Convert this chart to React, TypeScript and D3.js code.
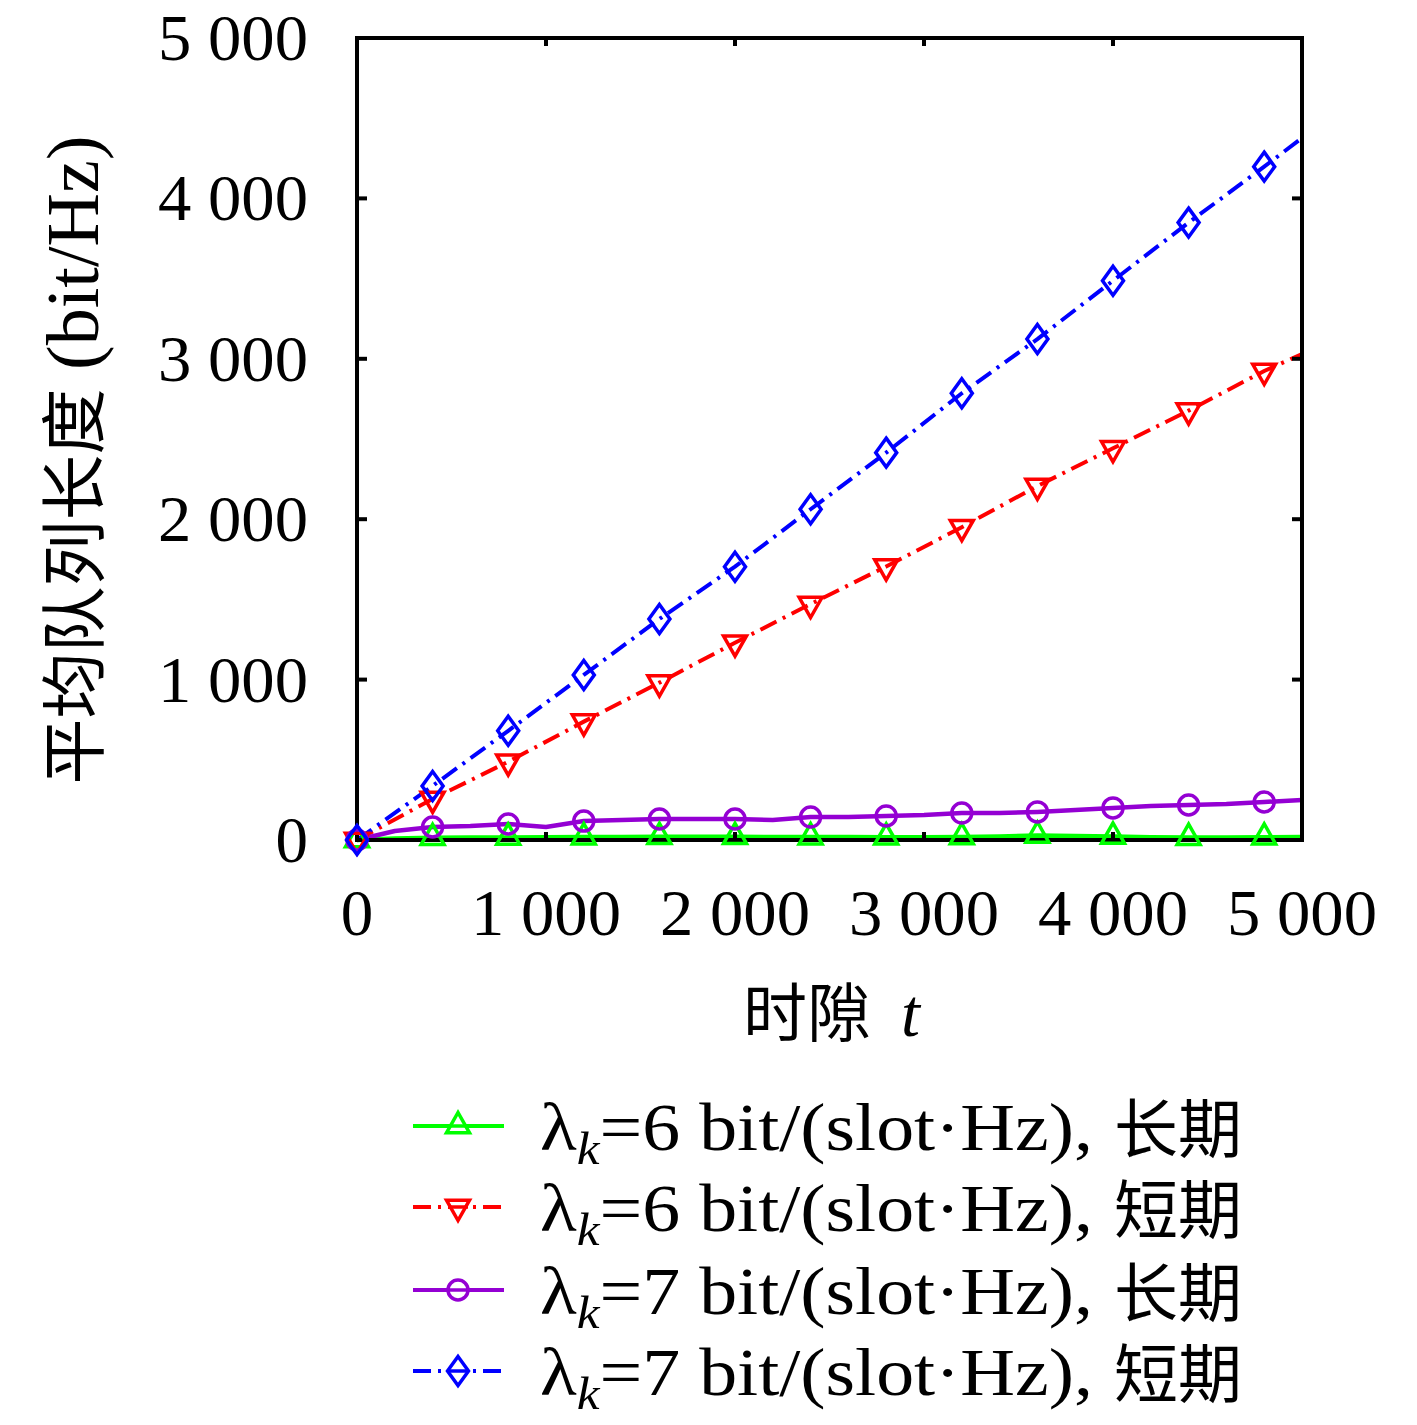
import React from "react";
import * as d3 from "d3";

// ---- data ----
const xTicks = [0, 1000, 2000, 3000, 4000, 5000];
const yTicks = [0, 1000, 2000, 3000, 4000, 5000];
const tickLabel = (v: number) => (v === 0 ? "0" : `${Math.floor(v / 1000)} ${String(v % 1000).padStart(3, "0")}`);

const markerSlots = [0, 400, 800, 1200, 1600, 2000, 2400, 2800, 3200, 3600, 4000, 4400, 4800];
const denseSlots = [0, 200, 400, 600, 800, 1000, 1200, 1400, 1600, 1800, 2000, 2200, 2400, 2600, 2800, 3000, 3200, 3400, 3600, 3800, 4000, 4200, 4400, 4600, 4800, 5000];

// λ=6 long-term (green), dense samples
const green6Long = [0, 10, 14, 15, 16, 17, 18, 18, 20, 20, 20, 19, 18, 18, 17, 17, 19, 22, 28, 25, 22, 17, 15, 15, 17, 18];
// λ=7 long-term (purple), dense samples
const purple7Long = [0, 56, 81, 87, 100, 81, 118, 125, 131, 131, 131, 125, 143, 143, 150, 156, 168, 168, 175, 187, 200, 212, 218, 224, 237, 249];
// λ=6 short-term (red), at marker slots + end
const redSlots = [0, 400, 800, 1200, 1600, 2000, 2400, 2800, 3200, 3600, 4000, 4400, 4800, 5000];
const red6Short = [0, 256, 488, 738, 981, 1230, 1471, 1705, 1950, 2207, 2442, 2677, 2924, 3030];
// λ=7 short-term (blue)
const blue7Short = [0, 337, 681, 1029, 1378, 1704, 2062, 2415, 2785, 3123, 3487, 3849, 4198, 4377];

const legendNums = ["6", "6", "7", "7"];
const legendTerms = ["长期", "短期", "长期", "短期"];

type Series = {
  xs: number[];
  ys: number[];
  color: string;
  dash: string | null;
  marker: "up" | "down" | "circle" | "diamond";
  width: number;
};

const seriesList: Series[] = [
  { xs: denseSlots, ys: green6Long, color: "#00ff00", dash: null, marker: "up", width: 4.5 },
  { xs: redSlots, ys: red6Short, color: "#ff0000", dash: "18,7,3,7", marker: "down", width: 4 },
  { xs: denseSlots, ys: purple7Long, color: "#9400d3", dash: null, marker: "circle", width: 4.5 },
  { xs: redSlots, ys: blue7Short, color: "#0000ff", dash: "18,7,3,7", marker: "diamond", width: 4 },
];

const LATIN = "'Liberation Serif', 'DejaVu Serif', serif";
const CJK = "'Noto Sans CJK SC', sans-serif";

function markerPath(kind: string): string {
  switch (kind) {
    case "up":
      return "M0,-13.5L-11.5,6.8L11.5,6.8Z";
    case "down":
      return "M0,13.5L-11.5,-6.8L11.5,-6.8Z";
    case "diamond":
      return "M0,-14.5L10.5,0L0,14.5L-10.5,0Z";
    default: {
      const p = d3.path();
      p.arc(0, 0, 10, 0, Math.PI * 2);
      p.closePath();
      return p.toString();
    }
  }
}

function interp(xs: number[], ys: number[], x: number) {
  for (let i = 0; i < xs.length - 1; i++) {
    if (x >= xs[i] && x <= xs[i + 1]) {
      const t = (x - xs[i]) / (xs[i + 1] - xs[i]);
      return ys[i] + t * (ys[i + 1] - ys[i]);
    }
  }
  return ys[ys.length - 1];
}

export default function App() {
  const W = 1417, H = 1425;
  const x = d3.scaleLinear().domain([0, 5000]).range([357, 1302]);
  const y = d3.scaleLinear().domain([0, 5000]).range([840, 38]);
  const line = d3.line<[number, number]>().x((d) => x(d[0])).y((d) => y(d[1]));

  return (
    <svg width={W} height={H} style={{ position: "absolute", left: 0, top: 0, background: "#fff" }}>
      <rect x={0} y={0} width={W} height={H} fill="#fff" />
      {/* series lines */}
      {seriesList.map((s, i) => (
        <path
          key={"l" + i}
          d={line(s.xs.map((v, j) => [v, s.ys[j]] as [number, number])) || ""}
          fill="none"
          stroke={s.color}
          strokeWidth={s.width}
          strokeDasharray={s.dash || undefined}
          strokeLinejoin="round"
        />
      ))}
      {/* frame */}
      <rect x={x(0)} y={y(5000)} width={x(5000) - x(0)} height={y(0) - y(5000)} fill="none" stroke="#000" strokeWidth={4} />
      {/* ticks */}
      {yTicks.slice(1, -1).map((t) => (
        <g key={"yt" + t}>
          <line x1={x(0)} x2={x(0) + 10} y1={y(t)} y2={y(t)} stroke="#000" strokeWidth={4} />
          <line x1={x(5000)} x2={x(5000) - 10} y1={y(t)} y2={y(t)} stroke="#000" strokeWidth={4} />
        </g>
      ))}
      {xTicks.slice(1, -1).map((t) => (
        <g key={"xt" + t}>
          <line x1={x(t)} x2={x(t)} y1={y(0)} y2={y(0) - 8} stroke="#000" strokeWidth={4} />
          <line x1={x(t)} x2={x(t)} y1={y(5000)} y2={y(5000) + 8} stroke="#000" strokeWidth={4} />
        </g>
      ))}
      {/* markers */}
      {seriesList.map((s, i) => (
        <g key={"m" + i}>
          {markerSlots.map((m) => (
            <path
              key={m}
              d={markerPath(s.marker)}
              transform={`translate(${x(m)},${y(interp(s.xs, s.ys, m))})`}
              fill="none"
              stroke={s.color}
              strokeWidth={3.5}
            />
          ))}
        </g>
      ))}
      {/* tick labels */}
      {yTicks.map((t) => (
        <text key={"yl" + t} x={308} y={y(t) + 22} textAnchor="end" fontFamily={LATIN} fontSize={65}
          textLength={t === 0 ? undefined : 150} lengthAdjust="spacingAndGlyphs">
          {tickLabel(t)}
        </text>
      ))}
      {xTicks.map((t) => (
        <text key={"xl" + t} x={x(t)} y={935} textAnchor="middle" fontFamily={LATIN} fontSize={65}
          textLength={t === 0 ? undefined : 150} lengthAdjust="spacingAndGlyphs">
          {tickLabel(t)}
        </text>
      ))}
      {/* axis titles */}
      <text x={743} y={1036} fontFamily={CJK} fontSize={64}>时隙</text>
      <text x={901} y={1036} fontFamily={LATIN} fontStyle="italic" fontSize={68}>t</text>
      <text transform="translate(98,460) rotate(-90)" textAnchor="middle" fontSize={66}>
        <tspan fontFamily={CJK}>平均队列长度</tspan>
        <tspan fontFamily={LATIN} fontSize={74}> (bit/Hz)</tspan>
      </text>
      {/* legend */}
      {seriesList.map((s, i) => {
        const ly = [1126, 1207, 1290, 1371][i];
        return (
          <g key={"lg" + i}>
            <line x1={413} x2={504} y1={ly} y2={ly} stroke={s.color} strokeWidth={4} strokeDasharray={s.dash ? "18,7,3,7" : undefined} />
            <path d={markerPath(s.marker)} transform={`translate(458,${ly})`} fill="#fff" stroke={s.color} strokeWidth={3.5} />
            <line x1={448} x2={468} y1={ly} y2={ly} stroke={s.color} strokeWidth={3.5} />
            <text x={540} y={ly + 24} fontSize={68} fontFamily={LATIN} textLength={553} lengthAdjust="spacingAndGlyphs">
              <tspan>λ</tspan>
              <tspan fontStyle="italic" fontSize={46} dy={14}>k</tspan>
              <tspan dy={-14}>{`=${legendNums[i]} bit/(slot·Hz),`}</tspan>
            </text>
            <text x={1114} y={ly + 26} fontFamily={CJK} fontSize={64}>{legendTerms[i]}</text>
          </g>
        );
      })}
    </svg>
  );
}
